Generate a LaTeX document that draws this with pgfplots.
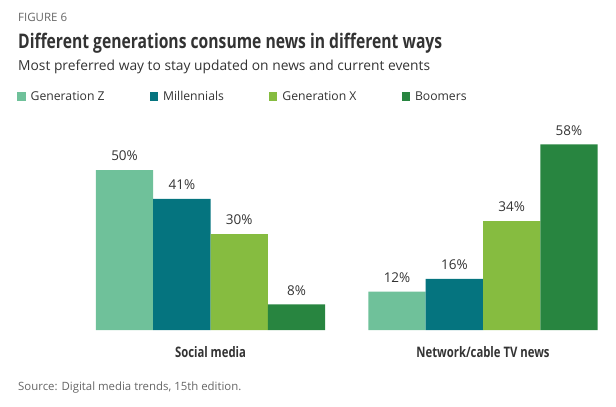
\documentclass[border=0pt]{standalone}
\usepackage{fontspec}
\setmainfont{Open Sans}
\newfontfamily\condbold{Open Sans}[FakeStretch=0.78]
\usepackage{pgfplots}
\pgfplotsset{compat=1.18}
\definecolor{genz}{RGB}{111,193,154}
\definecolor{millen}{RGB}{5,116,127}
\definecolor{genx}{RGB}{134,188,64}
\definecolor{boom}{RGB}{40,133,64}
\definecolor{txt}{RGB}{51,51,51}
\definecolor{graytxt}{RGB}{102,102,102}
\begin{document}
\begin{tikzpicture}[x=1bp,y=1bp]
\path[use as bounding box] (0,0) rectangle (616,406);
\begin{axis}[
    at={(40bp,76bp)}, anchor=south west,
    scale only axis, width=560bp, height=192bp,
    xmin=-0.6257, xmax=1.4294, ymin=0, ymax=60,
    clip=false,
    /pgf/number format/assume math mode=true,
    axis line style={draw=none},
    tick style={draw=none},
    ytick=\empty,
    xtick={0,1},
    xticklabels={Social media, Network/cable TV news},
    xticklabel style={font=\condbold\bfseries\fontsize{14.5bp}{18bp}\selectfont, text=txt, anchor=base, yshift=-23bp, inner sep=0pt},
    ybar=0pt, bar width=57.3bp,
    nodes near coords={\pgfmathprintnumber{\pgfplotspointmeta}\%},
    every node near coord/.append style={font=\fontsize{13.5bp}{16bp}\selectfont, text=txt, anchor=base, yshift=9.3bp, inner sep=0pt},
    legend image code/.code={\fill[#1] (0bp,-4.5bp) rectangle (8.5bp,4.5bp);},
    legend columns=4,
    legend style={at={(rel axis cs:-0.0411,1.216)}, anchor=west, draw=none, fill=none, inner sep=0pt,
        font=\fontsize{12.2bp}{15bp}\selectfont, text=txt,
        /tikz/every odd column/.append style={column sep=3bp},
        /tikz/every even column/.append style={column sep=43bp}},
]
\addplot[fill=genz, draw=none] coordinates {(0,50) (1,12)};
\addplot[fill=millen, draw=none] coordinates {(0,41) (1,16)};
\addplot[fill=genx, draw=none] coordinates {(0,30) (1,34)};
\addplot[fill=boom, draw=none] coordinates {(0,8) (1,58)};
\legend{Generation Z, Millennials, Generation X, Boomers}
\end{axis}
\node[anchor=base west, inner sep=0pt, text=graytxt, font=\fontsize{11.5bp}{13bp}\selectfont] at (18,384.7) {FIGURE 6};
\node[anchor=base west, inner sep=0pt, text=txt, font=\condbold\bfseries\fontsize{20.1bp}{24bp}\selectfont] at (18,357.3) {Different generations consume news in different ways};
\node[anchor=base west, inner sep=0pt, text=txt, font=\fontsize{13.8bp}{16bp}\selectfont] at (18,335.7) {Most preferred way to stay updated on news and current events};
\node[anchor=base west, inner sep=0pt, text=graytxt, font=\fontsize{11.4bp}{14bp}\selectfont] at (18,15.3) {Source: Digital media trends, 15th edition.};
\end{tikzpicture}
\end{document}
